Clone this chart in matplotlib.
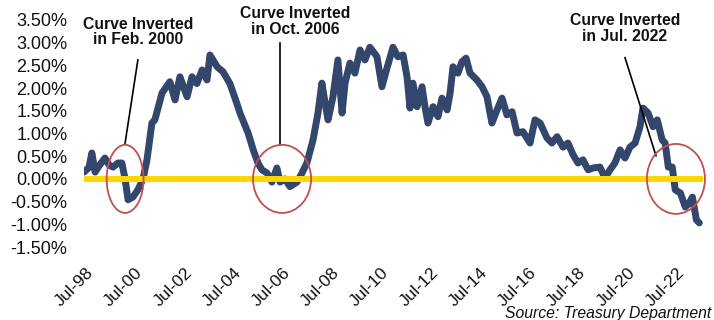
import matplotlib
matplotlib.use('Agg')
import matplotlib.pyplot as plt
from matplotlib.patches import Ellipse
import numpy as np

# 10y - 2y treasury spread (%), decimal years
years = [1998.42, 1998.62, 1998.74, 1998.87, 1999.05, 1999.27, 1999.45, 1999.60, 1999.80, 1999.96,
         2000.09, 2000.21, 2000.41, 2000.61, 2000.82, 2000.98, 2001.18, 2001.30, 2001.59, 2001.91,
         2002.12, 2002.32, 2002.61, 2002.81, 2003.01, 2003.22, 2003.42, 2003.54, 2003.83, 2004.07,
         2004.35, 2004.64, 2004.76, 2005.09, 2005.30, 2005.49, 2005.65, 2005.86, 2006.06, 2006.26,
         2006.39, 2006.59, 2006.79, 2007.08, 2007.28, 2007.48, 2007.73, 2007.93, 2008.09, 2008.22,
         2008.34, 2008.54, 2008.74, 2008.91, 2009.03, 2009.23, 2009.43, 2009.64, 2009.84, 2010.04,
         2010.33, 2010.53, 2010.74, 2010.98, 2011.18, 2011.39, 2011.55, 2011.67, 2011.79, 2011.96,
         2012.16, 2012.28, 2012.40, 2012.61, 2012.81, 2012.97, 2013.18, 2013.30, 2013.42, 2013.62,
         2013.78, 2013.95, 2014.11, 2014.39, 2014.60, 2014.80, 2015.00, 2015.21, 2015.41, 2015.61,
         2015.82, 2016.02, 2016.26, 2016.55, 2016.75, 2016.96, 2017.24, 2017.44, 2017.65, 2017.89,
         2018.09, 2018.30, 2018.50, 2018.70, 2018.91, 2019.11, 2019.39, 2019.60, 2019.80, 2020.00,
         2020.21, 2020.41, 2020.61, 2020.82, 2021.02, 2021.14, 2021.35, 2021.55, 2021.72, 2021.92,
         2022.04, 2022.17, 2022.33, 2022.45, 2022.66, 2022.86, 2023.02, 2023.15, 2023.31, 2023.43]
spread = [0.15, 0.25, 0.57, 0.15, 0.30, 0.46, 0.30, 0.26, 0.35, 0.35,
          0.00, -0.46, -0.40, -0.24, 0.00, 0.42, 1.23, 1.30, 1.89, 2.14,
          1.74, 2.25, 1.81, 2.25, 2.10, 2.40, 2.18, 2.73, 2.47, 2.36,
          2.10, 1.65, 1.45, 1.01, 0.64, 0.35, 0.20, 0.13, -0.07, 0.24,
          -0.07, 0.00, -0.17, -0.07, 0.13, 0.35, 0.86, 1.45, 2.11, 1.67,
          1.30, 1.81, 2.62, 1.45, 2.11, 2.55, 2.33, 2.84, 2.62, 2.90,
          2.69, 2.03, 2.45, 2.90, 2.69, 2.73, 2.25, 1.56, 2.11, 1.59,
          2.03, 1.59, 1.23, 1.59, 1.37, 1.78, 1.52, 1.89, 2.47, 2.33,
          2.58, 2.66, 2.33, 2.18, 2.03, 1.81, 1.23, 1.52, 1.78, 1.41,
          1.48, 1.01, 1.04, 0.79, 1.30, 1.23, 0.90, 0.79, 0.93, 0.70,
          0.79, 0.53, 0.35, 0.42, 0.20, 0.24, 0.26, 0.02, 0.20, 0.35,
          0.64, 0.46, 0.70, 0.79, 1.15, 1.56, 1.45, 1.15, 1.30, 0.86,
          0.79, 0.26, 0.26, -0.24, -0.31, -0.62, -0.53, -0.40, -0.90, -0.97]

tick_years = list(range(1998, 2023, 2))
tick_labels = ['Jul-%02d' % (y % 100) for y in tick_years]
y_ticks = [3.5, 3.0, 2.5, 2.0, 1.5, 1.0, 0.5, 0.0, -0.5, -1.0, -1.5]

# (text, text x, text y, line start, line end, ellipse centre, ellipse w, ellipse h)
notes = [
    ('Curve Inverted\nin Feb. 2000', 2000.61, 3.24, (2000.61, 2.62), (2000.09, 0.79), 2000.09, 1.50, 1.50),
    ('Curve Inverted\nin Oct. 2006', 2006.99, 3.47, (2006.39, 3.00), (2006.39, 0.75), 2006.47, 2.36, 1.50),
    ('Curve Inverted\nin Jul. 2022', 2020.41, 3.31, (2020.41, 2.67), (2021.67, 0.51), 2022.48, 2.36, 1.54),
]

navy = '#33466B'
gold = '#FFD600'
red = '#C0504D'

plt.rcParams['font.family'] = ['Liberation Sans', 'DejaVu Sans']

fig = plt.figure(figsize=(7.14, 3.2), dpi=100)
ax = fig.add_axes([84/714, 1 - 247/320, (703-84)/714, (247-20)/320])

ax.plot(years, spread, color=navy, lw=5.0, solid_joinstyle='round', solid_capstyle='round', zorder=2)
ax.axhline(0, color=gold, lw=4.3, zorder=3)

for text, tx, ty, p0, p1, ex, ew, eh in notes:
    ax.text(tx, ty, text, ha='center', va='center', fontsize=11.3, fontweight='bold',
            linespacing=1.05, color='#111111', clip_on=False)
    ax.plot([p0[0], p1[0]], [p0[1], p1[1]], color='black', lw=1.2, zorder=4, clip_on=False)
    ax.add_patch(Ellipse((ex, 0), ew, eh, fill=False, edgecolor=red, lw=1.3, zorder=5, clip_on=False))

ax.set_xlim(1998.42, 2023.58)
ax.set_ylim(-1.5, 3.5)
ax.set_yticks(y_ticks)
ax.set_yticklabels(['%.2f%%' % v for v in y_ticks], fontsize=13)
ax.set_xticks([y + 0.5 for y in tick_years])
ax.set_xticklabels(tick_labels, rotation=45, ha='right', va='top', rotation_mode='anchor', fontsize=12.5)
ax.tick_params(axis='both', length=0, colors='#111111')
ax.tick_params(axis='y', pad=12)
ax.tick_params(axis='x', pad=13)
for s in ax.spines.values():
    s.set_visible(False)

fig.text(711/714, -1/320, 'Source: Treasury Department', ha='right', va='bottom',
         fontsize=11.3, style='italic', color='#111111')

fig.savefig('out.png', dpi=100)
